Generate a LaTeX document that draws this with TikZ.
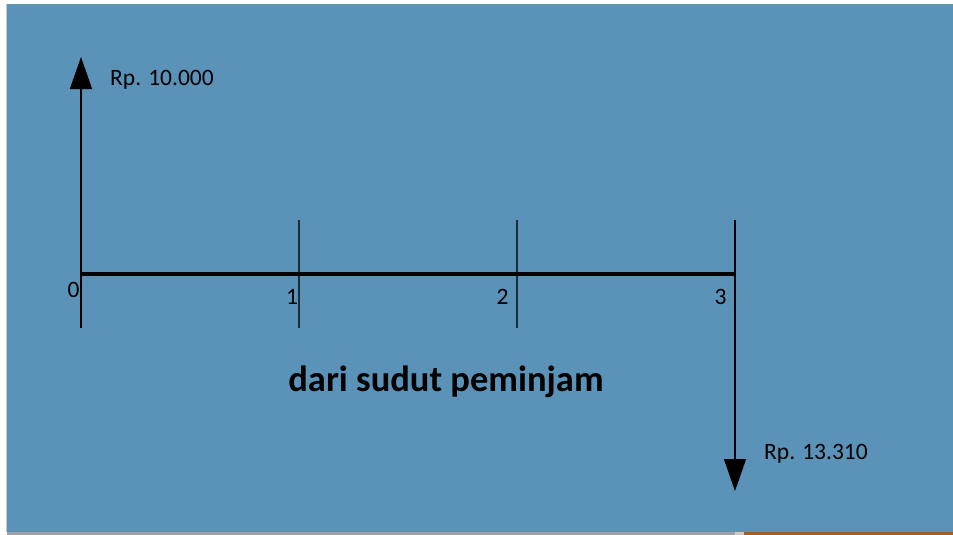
\documentclass[tikz,border=0pt]{standalone}
\usepackage{fontspec}
\setmainfont{Carlito}
\usetikzlibrary{arrows.meta}
\definecolor{bgblue}{RGB}{91,146,183}
\definecolor{stripgray}{RGB}{160,160,160}
\definecolor{stripgrayl}{RGB}{200,200,200}
\definecolor{striporange}{RGB}{160,96,42}
\definecolor{tickcol}{RGB}{30,45,60}
\tikzset{
  thinline/.style={line width=1.3pt, draw=tickcol},
  bigarrow/.style={line width=1.3pt, draw=black, -{Triangle[length=32pt,width=22pt]}},
  axisline/.style={line width=4pt, draw=black},
  lbl/.style={inner sep=0pt, anchor=base, font=\fontsize{23.5}{28}\selectfont},
  amt/.style={inner sep=0pt, anchor=base west, font=\fontsize{23.5}{28}\selectfont},
  title/.style={inner sep=0pt, anchor=base, font=\fontsize{36.5}{44}\selectfont\bfseries}
}
\begin{document}
\begin{tikzpicture}[x=1pt,y=-1pt]
\useasboundingbox (0,0) rectangle (953,535);
\fill[white] (0,0) rectangle (953,535);
\fill[bgblue] (7,4) rectangle (953,532);
\draw[stripgrayl, line width=1pt] (6.5,4) -- (6.5,532);
\fill[stripgray] (7,532) rectangle (735,535);
\fill[stripgrayl] (735,532) rectangle (744,535);
\fill[striporange] (744,532) rectangle (953,535);
% axis points
\coordinate (p0) at (81,274);
\coordinate (p3) at (735,274);
\coordinate (b0) at (81,328);
\coordinate (u0) at (81,57);
\coordinate (t1a) at (299,220);
\coordinate (t1b) at (299,328);
\coordinate (t2a) at (517,220);
\coordinate (t2b) at (517,328);
\coordinate (t3a) at (735,220);
\coordinate (d3) at (735,491);
% ticks and axis
\draw[thinline] (t1a) -- (t1b);
\draw[thinline] (t2a) -- (t2b);
\draw[axisline] (p0) -- (p3);
\draw[bigarrow] (b0) -- (u0);
\draw[bigarrow] (t3a) -- (d3);
% labels
\node[lbl] (l0) at (73.5,297) {0};
\node[lbl] (l1) at (292,304) {1};
\node[lbl] (l2) at (502.5,304) {2};
\node[lbl] (l3) at (720.5,304) {3};
\node[amt] (a0) at (110,85) {Rp. 10.000};
\node[amt] (a3) at (764,459) {Rp. 13.310};
\node[title] (ttl) at (446,391) {dari sudut peminjam};
\end{tikzpicture}
\end{document}
